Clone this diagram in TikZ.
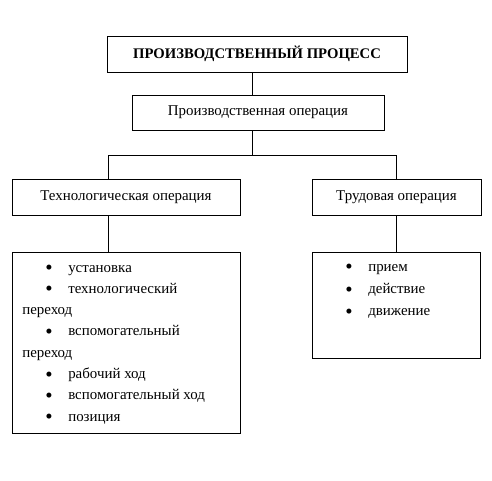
\documentclass[tikz,border=0pt]{standalone}
\usepackage{graphicx}
\usepackage{fontspec}
\setmainfont{Liberation Serif}
\newcommand\mybul{\makebox[17.25pt][l]{\raisebox{-1.9pt}{\scalebox{1.4}{•}}}}
\begin{document}
\begin{tikzpicture}[x=0.75pt,y=-0.75pt,
  box/.style={draw=black,line width=0.75pt,inner sep=0pt,outer sep=0pt,align=center,font=\fontsize{11.2}{13}\selectfont},
  conn/.style={draw=black,line width=0.75pt},
  item/.style={anchor=base west,inner sep=0pt,font=\fontsize{11.2}{13}\selectfont}]
\useasboundingbox (0,0) rectangle (492,480);
\node[box,minimum width=225pt,minimum height=27pt,font=\fontsize{11}{13}\selectfont\bfseries] (top) at (257,54) {ПРОИЗВОДСТВЕННЫЙ ПРОЦЕСС};
\node[box,minimum width=189pt,minimum height=26.25pt] (op) at (258,112.5) {Производственная операция};
\node[box,minimum width=171pt,minimum height=27pt] (tech) at (126,197) {Технологическая операция};
\node[box,minimum width=126.75pt,minimum height=27pt] (trud) at (396.5,197) {Трудовая операция};
\node[box,minimum width=171pt,minimum height=135.75pt] (techlist) at (126,342.5) {};
\node[box,minimum width=126pt,minimum height=79.5pt] (trudlist) at (396,305) {};
\coordinate (bm) at (252,155);
\coordinate (bl) at (108,155);
\coordinate (br) at (396,155);
\draw[conn] (top.south -| bm) -- (op.north -| bm);
\draw[conn] (op.south -| bm) -- (bm);
\draw[conn] (bl) -- (br);
\draw[conn] (bl) -- (tech.north -| bl);
\draw[conn] (br) -- (trud.north -| br);
\draw[conn] (tech.south -| bl) -- (techlist.north -| bl);
\draw[conn] (trud.south -| br) -- (trudlist.north -| br);
% technological list
\node[item] (t1) at (45,272) {\mybul установка};
\node[item] (t2) at (45,293.3) {\mybul технологический};
\node[item] (t3) at (22,314.6) {переход};
\node[item] (t4) at (45,335.9) {\mybul вспомогательный};
\node[item] (t5) at (22,357.2) {переход};
\node[item] (t6) at (45,378.5) {\mybul рабочий ход};
\node[item] (t7) at (45,399.8) {\mybul вспомогательный ход};
\node[item] (t8) at (45,421.1) {\mybul позиция};
% labour list
\node[item] (r1) at (345,271) {\mybul прием};
\node[item] (r2) at (345,293.5) {\mybul действие};
\node[item] (r3) at (345,315.5) {\mybul движение};
\end{tikzpicture}
\end{document}
